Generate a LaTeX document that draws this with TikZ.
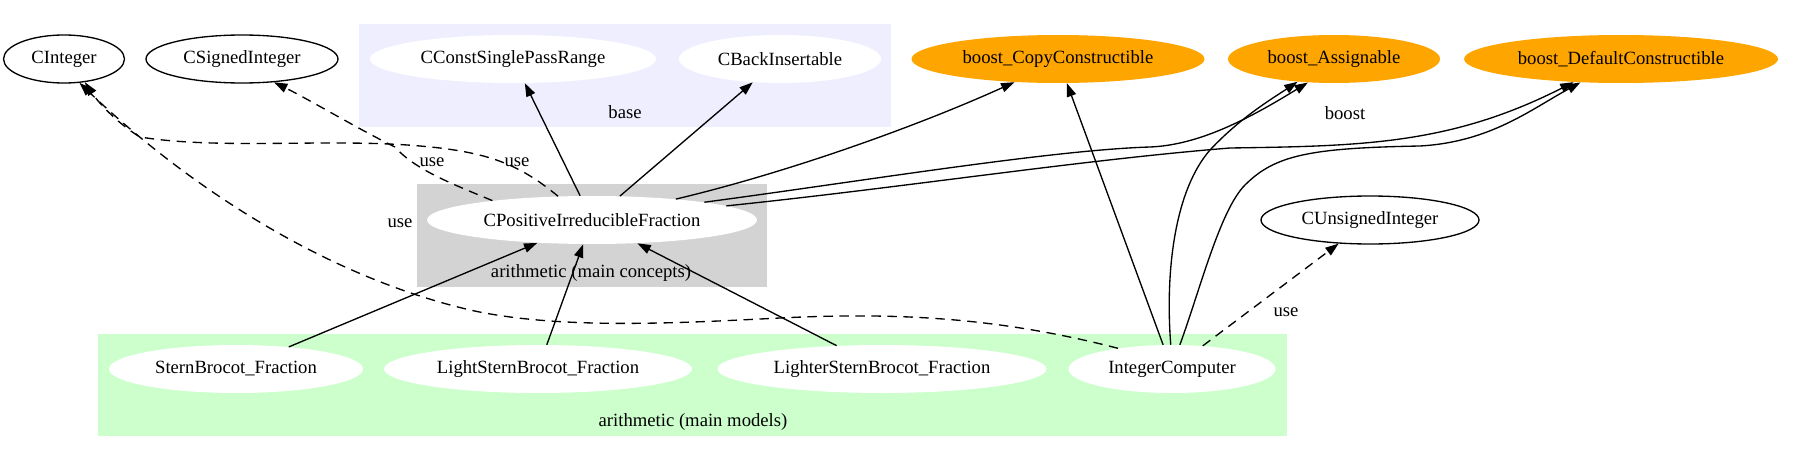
\documentclass[tikz,border=0pt]{standalone}
\usepackage{fontspec}
\setmainfont{Liberation Serif}
\usetikzlibrary{shapes.geometric,arrows.meta}
\definecolor{baseblue}{HTML}{EEEEFF}
\definecolor{boostorange}{HTML}{FFA500}
\definecolor{conceptgray}{HTML}{D3D3D3}
\definecolor{modelgreen}{HTML}{CCFFCC}

\begin{document}
\begin{tikzpicture}[x=0.75pt,y=-0.75pt,
    every node/.style={font=\fontsize{14}{16}\selectfont},
    elli/.style={ellipse,minimum height=36pt,inner sep=0pt},
    ext/.style={elli,draw,line width=1pt},
    mem/.style={elli,fill=white},
    bst/.style={elli,fill=boostorange},
    dep/.style={line width=1pt,-{Triangle[length=10pt,width=7pt]}},
    usedep/.style={dep,dash pattern=on 7pt off 5pt}]
  \useasboundingbox (0,0) rectangle (1816,453);
  % clusters
  \fill[baseblue] (359,24) rectangle (891,127);
  \fill[conceptgray] (417,184) rectangle (767,287);
  \fill[modelgreen] (98,334) rectangle (1287,436);
  \node (lbase) at (625,112) {base};
  \node (lboost) at (1345,113) {boost};
  \node (lconc) at (591,273) {arithmetic (main concepts)};
  \node (lmod) at (693,422) {arithmetic (main models)};

  \node[ext,minimum width=90.75pt] (CInt) at (64,59) {CInteger};
  \node[ext,minimum width=144pt] (CSInt) at (242,59) {CSignedInteger};
  \node[mem,minimum width=214.5pt] (CCSPR) at (513,59) {CConstSinglePassRange};
  \node[mem,minimum width=151.5pt] (CBI) at (780,59) {CBackInsertable};
  \node[bst,minimum width=219.75pt] (BCC) at (1058,59) {boost\_CopyConstructible};
  \node[bst,minimum width=159pt] (BA) at (1334,59) {boost\_Assignable};
  \node[bst,minimum width=235.5pt] (BDC) at (1621,59) {boost\_DefaultConstructible};
  \node[mem,minimum width=247.5pt] (CPIF) at (592,220) {CPositiveIrreducibleFraction};
  \node[ext,minimum width=163.5pt] (CUInt) at (1370,220) {CUnsignedInteger};
  \node[mem,minimum width=190.5pt] (SBF) at (236,369) {SternBrocot\_Fraction};
  \node[mem,minimum width=231pt] (LSBF) at (538,369) {LightSternBrocot\_Fraction};
  \node[mem,minimum width=246.75pt] (LrSBF) at (882,369) {LighterSternBrocot\_Fraction};
  \node[mem,minimum width=155.25pt] (IC) at (1172,369) {IntegerComputer};

  \draw[dep] (CPIF) -- (CCSPR);
  \draw[dep] (CPIF) -- (CBI);
  \draw[dep] (CPIF.14) .. controls (790,172) and (920,125) .. (BCC.208);
  \draw[dep] (CPIF.9) .. controls (850,183) and (1050,150) .. (1150,147)
    .. controls (1200,145) and (1250,118) .. (BA.222);
  \draw[dep] (CPIF.6) .. controls (900,188) and (1080,160) .. (1230,148)
    .. controls (1360,146) and (1450,145) .. (BDC.206);
  \draw[usedep] (CPIF.169) .. controls (455,185) and (415,170) .. (395,147)
    .. controls (360,130) and (310,100) .. (CSInt.324);
  \draw[usedep] (CPIF.145) .. controls (520,165) and (490,152) .. (420,146)
    .. controls (330,138) and (220,150) .. (140,137)
    .. controls (120,125) and (100,105) .. (CInt.312);
  \node (u1) at (432,162) {use};
  \node (u2) at (517,162) {use};

  \draw[dep] (SBF) -- (CPIF);
  \draw[dep] (LSBF) -- (CPIF);
  \draw[dep] (LrSBF) -- (CPIF);

  \draw[dep] (IC) -- (BCC);
  \draw[dep] (IC.93) .. controls (1165,270) and (1175,190) .. (1210,150)
    .. controls (1240,118) and (1270,100) .. (BA.212);
  \draw[dep] (IC.72) .. controls (1200,290) and (1220,210) .. (1245,185)
    .. controls (1275,155) and (1310,148) .. (1420,146)
    .. controls (1490,142) and (1530,110) .. (BDC.210);
  \draw[usedep] (IC) -- (CUInt);
  \node (u3) at (1286,312) {use};
  \draw[usedep] (IC.159) .. controls (1000,318) and (900,312) .. (780,318)
    .. controls (680,323) and (560,330) .. (470,310)
    .. controls (300,270) and (160,160) .. (CInt.303);
  \node (u4) at (400,223) {use};
\end{tikzpicture}
\end{document}
